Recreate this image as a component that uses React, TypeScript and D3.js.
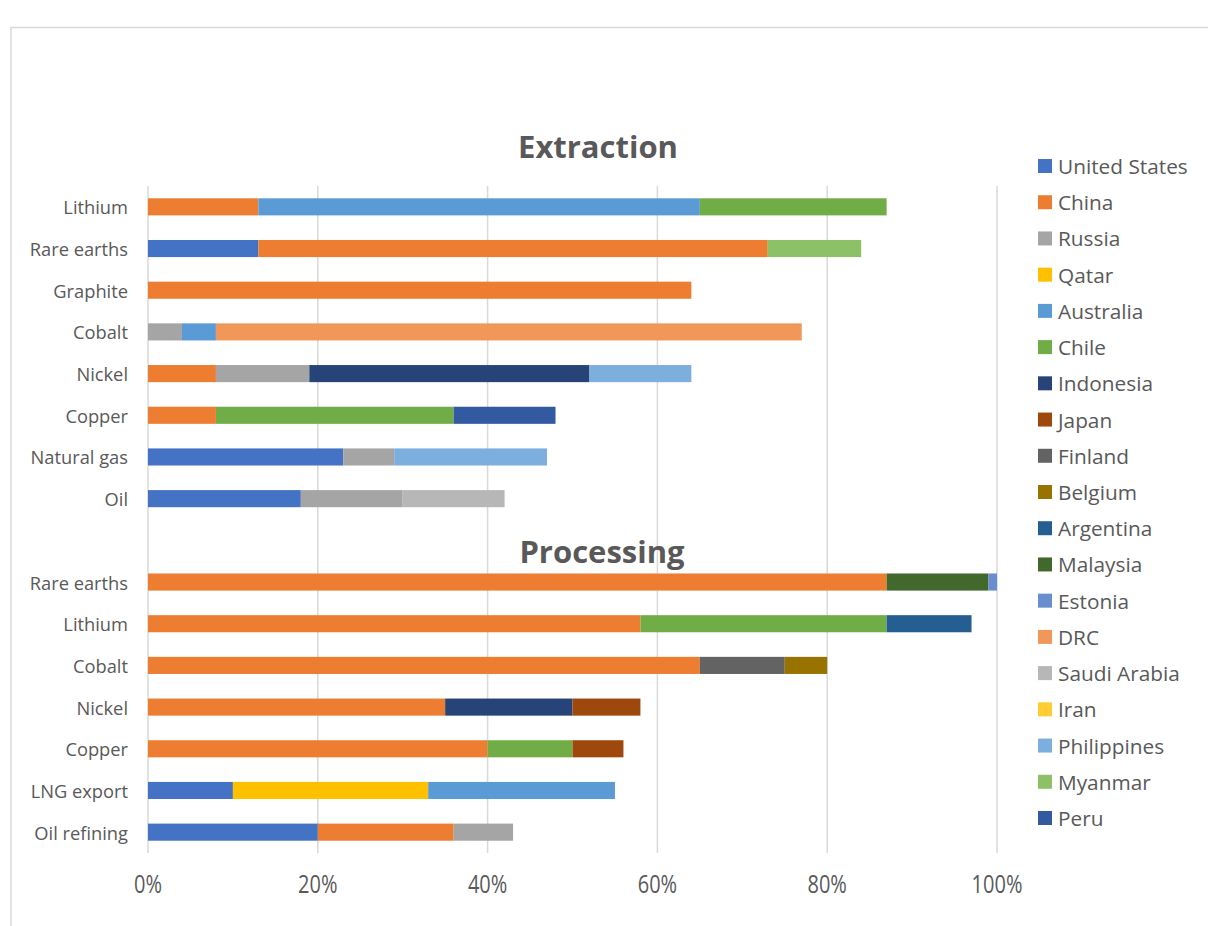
import React from "react";
import * as d3 from "d3";

// Row labels for the two panels (top to bottom)
const extractionRows = ["Lithium", "Rare earths", "Graphite", "Cobalt", "Nickel", "Copper", "Natural gas", "Oil"];
const processingRows = ["Rare earths", "Lithium", "Cobalt", "Nickel", "Copper", "LNG export", "Oil refining"];

// Country series, in stacking / legend order
const countries = [
  "United States", "China", "Russia", "Qatar", "Australia", "Chile", "Indonesia", "Japan",
  "Finland", "Belgium", "Argentina", "Malaysia", "Estonia", "DRC", "Saudi Arabia", "Iran",
  "Philippines", "Myanmar", "Peru",
];
const countryColors = [
  "#4472C4", "#ED7D31", "#A5A5A5", "#FFC000", "#5B9BD5", "#70AD47", "#264478", "#9E480E",
  "#636363", "#997300", "#255E91", "#43682B", "#698ED0", "#F1975A", "#B7B7B7", "#FFCD33",
  "#7CAFDD", "#8CC168", "#335AA1",
];

// Shares (%) per country: first 8 values = extraction rows, next 7 = processing rows
const unitedStates = [0, 13, 0, 0, 0, 0, 23, 18, 0, 0, 0, 0, 0, 10, 20];
const china = [13, 60, 64, 0, 8, 8, 0, 0, 87, 58, 65, 35, 40, 0, 16];
const russia = [0, 0, 0, 4, 11, 0, 6, 12, 0, 0, 0, 0, 0, 0, 7];
const qatar = [0, 0, 0, 0, 0, 0, 0, 0, 0, 0, 0, 0, 0, 23, 0];
const australia = [52, 0, 0, 4, 0, 0, 0, 0, 0, 0, 0, 0, 0, 22, 0];
const chile = [22, 0, 0, 0, 0, 28, 0, 0, 0, 29, 0, 0, 10, 0, 0];
const indonesia = [0, 0, 0, 0, 33, 0, 0, 0, 0, 0, 0, 15, 0, 0, 0];
const japan = [0, 0, 0, 0, 0, 0, 0, 0, 0, 0, 0, 8, 6, 0, 0];
const finland = [0, 0, 0, 0, 0, 0, 0, 0, 0, 0, 10, 0, 0, 0, 0];
const belgium = [0, 0, 0, 0, 0, 0, 0, 0, 0, 0, 5, 0, 0, 0, 0];
const argentina = [0, 0, 0, 0, 0, 0, 0, 0, 0, 10, 0, 0, 0, 0, 0];
const malaysia = [0, 0, 0, 0, 0, 0, 0, 0, 12, 0, 0, 0, 0, 0, 0];
const estonia = [0, 0, 0, 0, 0, 0, 0, 0, 1, 0, 0, 0, 0, 0, 0];
const drc = [0, 0, 0, 69, 0, 0, 0, 0, 0, 0, 0, 0, 0, 0, 0];
const saudiArabia = [0, 0, 0, 0, 0, 0, 0, 12, 0, 0, 0, 0, 0, 0, 0];
const iran = [0, 0, 0, 0, 0, 0, 0, 0, 0, 0, 0, 0, 0, 0, 0];
const philippines = [0, 0, 0, 0, 12, 0, 18, 0, 0, 0, 0, 0, 0, 0, 0];
const myanmar = [0, 11, 0, 0, 0, 0, 0, 0, 0, 0, 0, 0, 0, 0, 0];
const peru = [0, 0, 0, 0, 0, 12, 0, 0, 0, 0, 0, 0, 0, 0, 0];

const seriesValues = [
  unitedStates, china, russia, qatar, australia, chile, indonesia, japan, finland, belgium,
  argentina, malaysia, estonia, drc, saudiArabia, iran, philippines, myanmar, peru,
];

const xTicks = [0, 20, 40, 60, 80, 100];
const panelTitles = ["Extraction", "Processing"];

const TEXT = "#595959";
const FONT = "'Open Sans', 'Noto Sans', sans-serif";

export default function App() {
  const width = 1208;
  const height = 926;

  // One band per row, with an empty band between the two panels
  const rowKeys = [
    ...extractionRows.map((r, i) => `e${i}`),
    "gap",
    ...processingRows.map((r, i) => `p${i}`),
  ];
  const rowLabels: Record<string, string> = {};
  extractionRows.forEach((r, i) => (rowLabels[`e${i}`] = r));
  processingRows.forEach((r, i) => (rowLabels[`p${i}`] = r));
  const dataKeys = rowKeys.filter((k) => k !== "gap");

  const x = d3.scaleLinear().domain([0, 100]).range([148, 997]);
  const y = d3
    .scaleBand<string>()
    .domain(rowKeys)
    .range([186, 853])
    .paddingInner(0.59)
    .paddingOuter(0.295);

  const table = dataKeys.map((key, i) => {
    const row: Record<string, number | string> = { key };
    countries.forEach((c, j) => (row[c] = seriesValues[j][i]));
    return row;
  });
  const stacked = d3.stack<any>().keys(countries)(table);

  const legendY = d3.scalePoint<string>().domain(countries).range([166, 818]);

  return (
    <svg
      width={width}
      height={height}
      style={{ position: "absolute", left: 0, top: 0, background: "#fff" }}
      fontFamily={FONT}
    >
      <rect x={0} y={0} width={width} height={height} fill="#fff" />
      <rect x={11} y={27.5} width={1400} height={1200} fill="none" stroke="#d9d9d9" strokeWidth={1.5} />

      {/* vertical gridlines */}
      {xTicks.map((t) => (
        <line key={t} x1={x(t)} x2={x(t)} y1={186} y2={853} stroke="#d9d9d9" strokeWidth={1.5} />
      ))}

      {/* stacked bars */}
      {stacked.map((layer, si) => (
        <g key={countries[si]} fill={countryColors[si]}>
          {layer.map((d) =>
            d[1] - d[0] > 0 ? (
              <rect
                key={d.data.key as string}
                x={x(d[0])}
                y={y(d.data.key as string)!}
                width={x(d[1]) - x(d[0])}
                height={y.bandwidth()}
              />
            ) : null
          )}
        </g>
      ))}

      {/* row labels */}
      {dataKeys.map((k) => (
        <text
          key={k}
          x={128}
          y={y(k)! + y.bandwidth() / 2}
          textAnchor="end"
          dominantBaseline="central"
          fontSize={18.3}
          fill={TEXT}
        >
          {rowLabels[k]}
        </text>
      ))}

      {/* x tick labels */}
      {xTicks.map((t) => (
        <text
          key={t}
          transform={`translate(${x(t)},893) scale(1,1.3)`}
          textAnchor="middle"
          fontSize={20}
          fill={TEXT}
        >
          {`${t}%`}
        </text>
      ))}

      {/* panel titles */}
      <text x={598} y={158} textAnchor="middle" fontSize={31} fontWeight={700} fill={TEXT}>
        {panelTitles[0]}
      </text>
      <text x={602} y={563} textAnchor="middle" fontSize={31} fontWeight={700} fill={TEXT}>
        {panelTitles[1]}
      </text>

      {/* legend */}
      {countries.map((c, i) => (
        <g key={c} transform={`translate(1038,${legendY(c)})`}>
          <rect x={0} y={-7} width={14} height={14} fill={countryColors[i]} />
          <text x={20} y={0} dominantBaseline="central" fontSize={20.8} fill={TEXT}>
            {c}
          </text>
        </g>
      ))}
    </svg>
  );
}
